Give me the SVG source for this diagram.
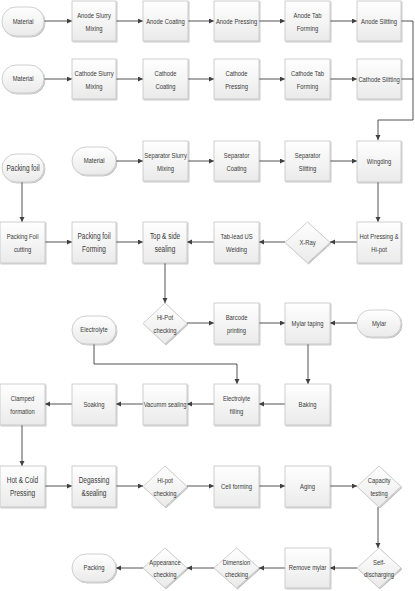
<svg xmlns="http://www.w3.org/2000/svg" width="415" height="591" viewBox="0 0 415 591">
<defs>
<linearGradient id="g" x1="0" y1="0" x2="0" y2="1"><stop offset="0" stop-color="#ffffff"/><stop offset="1" stop-color="#eaeaea"/></linearGradient>
<filter id="sh" x="-10%" y="-10%" width="130%" height="130%"><feDropShadow dx="1" dy="1" stdDeviation="0.7" flood-color="#000" flood-opacity="0.25"/></filter>
<marker id="ah" markerUnits="userSpaceOnUse" markerWidth="6" markerHeight="6" refX="5" refY="2.5" orient="auto"><path d="M0,0 L5,2.5 L0,5 z" fill="#404040"/></marker>
</defs>
<style>
.b{fill:url(#g);stroke:#c4c4c4;stroke-width:0.8;filter:url(#sh)}
.t,.l{fill:#3a3a3a;font-family:"Liberation Sans",Arial,sans-serif;text-anchor:middle;transform-box:fill-box;transform-origin:center;transform:scaleX(0.78)}
.t{font-size:7.5px}
.l{font-size:8.3px}
.c{fill:none;stroke:#404040;stroke-width:0.9}
.a{marker-end:url(#ah)}
</style>
<rect width="415" height="591" fill="#ffffff"/>
<g id="connectors">
<path class="c a" d="M44,21 H72"/><path class="c a" d="M116,21 H143"/><path class="c a" d="M188,21 H214"/><path class="c a" d="M259,21 H285"/><path class="c a" d="M330,21 H357"/>
<path class="c a" d="M44,79 H72"/><path class="c a" d="M116,79 H143"/><path class="c a" d="M188,79 H214"/><path class="c a" d="M259,79 H285"/><path class="c a" d="M330,79 H357"/>
<path class="c a" d="M401,21 H413 V120 H378 V140"/><path class="c" d="M401,79 H413"/>
<path class="c a" d="M116,161 H143"/><path class="c a" d="M188,161 H214"/><path class="c a" d="M259,161 H285"/><path class="c a" d="M330,161 H357"/>
<path class="c a" d="M378,182 V222"/><path class="c a" d="M22,182 V222"/>
<path class="c a" d="M45,242 H72"/><path class="c a" d="M116,242 H143"/><path class="c a" d="M357,242 H330"/><path class="c a" d="M285,242 H259"/><path class="c a" d="M214,242 H187"/>
<path class="c a" d="M165,263 V303"/>
<path class="c a" d="M187,323 H214"/><path class="c a" d="M259,323 H285"/><path class="c a" d="M357,323 H330"/>
<path class="c a" d="M94,344 V364 H237 V384"/><path class="c a" d="M308,344 V384"/>
<path class="c a" d="M285,404 H259"/><path class="c a" d="M214,404 H187"/><path class="c a" d="M143,404 H116"/><path class="c a" d="M72,404 H45"/>
<path class="c a" d="M22,425 V466"/>
<path class="c a" d="M45,486 H72"/><path class="c a" d="M116,486 H143"/><path class="c a" d="M187,486 H214"/><path class="c a" d="M259,486 H285"/><path class="c a" d="M330,486 H357"/>
<path class="c a" d="M378,507 V548"/>
<path class="c a" d="M357,568 H330"/><path class="c a" d="M285,568 H259"/><path class="c a" d="M214,568 H187"/><path class="c a" d="M143,568 H116"/>
</g>
<g id="n_material1"><rect class="b" x="2" y="7" width="42" height="29" rx="14"/><text class="t" x="23" y="24">Material</text></g>
<g id="n_anode_slurry"><rect class="b" x="72" y="1" width="44" height="40"/><text class="t" x="94" y="18.5">Anode Slurry</text><text class="t" x="94" y="31">Mixing</text></g>
<g id="n_anode_coating"><rect class="b" x="143" y="1" width="45" height="40"/><text class="t" x="165.5" y="24">Anode Coating</text></g>
<g id="n_anode_pressing"><rect class="b" x="214" y="1" width="45" height="40"/><text class="t" x="236.5" y="24">Anode Pressing</text></g>
<g id="n_anode_tab"><rect class="b" x="285" y="1" width="45" height="40"/><text class="t" x="307.5" y="18.5">Anode Tab</text><text class="t" x="307.5" y="31">Forming</text></g>
<g id="n_anode_slitting"><rect class="b" x="357" y="1" width="44" height="40"/><text class="t" x="379" y="24">Anode Slitting</text></g>
<g id="n_material2"><rect class="b" x="2" y="65" width="42" height="28" rx="14"/><text class="t" x="23" y="81.5">Material</text></g>
<g id="n_cathode_slurry"><rect class="b" x="72" y="59" width="44" height="40"/><text class="t" x="94" y="76.5">Cathode Slurry</text><text class="t" x="94" y="89">Mixing</text></g>
<g id="n_cathode_coating"><rect class="b" x="143" y="59" width="45" height="40"/><text class="t" x="165.5" y="76.5">Cathode</text><text class="t" x="165.5" y="89">Coating</text></g>
<g id="n_cathode_pressing"><rect class="b" x="214" y="59" width="45" height="40"/><text class="t" x="236.5" y="76.5">Cathode</text><text class="t" x="236.5" y="89">Pressing</text></g>
<g id="n_cathode_tab"><rect class="b" x="285" y="59" width="45" height="40"/><text class="t" x="307.5" y="76.5">Cathode Tab</text><text class="t" x="307.5" y="89">Forming</text></g>
<g id="n_cathode_slitting"><rect class="b" x="357" y="59" width="44" height="40"/><text class="t" x="379" y="82">Cathode Slitting</text></g>
<g id="n_packing_foil"><rect class="b" x="2" y="154" width="42" height="28" rx="14"/><text class="l" x="23" y="171">Packing foil</text></g>
<g id="n_material3"><rect class="b" x="72" y="147" width="44" height="28" rx="14"/><text class="t" x="94" y="163.5">Material</text></g>
<g id="n_separator_slurry"><rect class="b" x="143" y="141" width="45" height="40"/><text class="t" x="165.5" y="158.5">Separator Slurry</text><text class="t" x="165.5" y="171">Mixing</text></g>
<g id="n_separator_coating"><rect class="b" x="214" y="141" width="45" height="40"/><text class="t" x="236.5" y="158.5">Separator</text><text class="t" x="236.5" y="171">Coating</text></g>
<g id="n_separator_slitting"><rect class="b" x="285" y="141" width="45" height="40"/><text class="t" x="307.5" y="158.5">Separator</text><text class="t" x="307.5" y="171">Slitting</text></g>
<g id="n_wingding"><rect class="b" x="357" y="141" width="44" height="41"/><text class="t" x="379" y="164">Wingding</text></g>
<g id="n_packing_cutting"><rect class="b" x="0" y="222" width="45" height="41"/><text class="t" x="22.5" y="239.5">Packing Foil</text><text class="t" x="22.5" y="252">cutting</text></g>
<g id="n_packing_forming"><rect class="b" x="72" y="222" width="44" height="41"/><text class="l" x="94" y="239.5">Packing foil</text><text class="l" x="94" y="252">Forming</text></g>
<g id="n_top_side"><rect class="b" x="143" y="222" width="44" height="41"/><text class="l" x="165" y="239.5">Top &amp; side</text><text class="l" x="165" y="252">sealing</text></g>
<g id="n_tab_lead"><rect class="b" x="214" y="222" width="45" height="41"/><text class="t" x="236.5" y="239.5">Tab-lead  US</text><text class="t" x="236.5" y="252">Welding</text></g>
<g id="n_xray"><polygon class="b" points="307.5,222 330,242.5 307.5,263 285,242.5"/><text class="t" x="307.5" y="245">X-Ray</text></g>
<g id="n_hot_pressing"><rect class="b" x="357" y="222" width="44" height="41"/><text class="t" x="379" y="239.5">Hot Pressing &amp;</text><text class="t" x="379" y="252">Hi-pot</text></g>
<g id="n_hipot1"><polygon class="b" points="165,303 187,323.5 165,344 143,323.5"/><text class="t" x="165" y="320.5">Hi-Pot</text><text class="t" x="165" y="333">checking</text></g>
<g id="n_barcode"><rect class="b" x="214" y="303" width="45" height="41"/><text class="t" x="236.5" y="320.5">Barcode</text><text class="t" x="236.5" y="333">printing</text></g>
<g id="n_mylar_taping"><rect class="b" x="285" y="303" width="45" height="41"/><text class="t" x="307.5" y="326">Mylar taping</text></g>
<g id="n_mylar"><rect class="b" x="357" y="310" width="44" height="27" rx="13.5"/><text class="t" x="379" y="326">Mylar</text></g>
<g id="n_electrolyte"><rect class="b" x="72" y="316" width="44" height="28" rx="14"/><text class="t" x="94" y="332.5">Electrolyte</text></g>
<g id="n_clamped"><rect class="b" x="0" y="384" width="45" height="41"/><text class="t" x="22.5" y="401.5">Clamped</text><text class="t" x="22.5" y="414">formation</text></g>
<g id="n_soaking"><rect class="b" x="72" y="384" width="44" height="41"/><text class="t" x="94" y="407">Soaking</text></g>
<g id="n_vacuum"><rect class="b" x="143" y="384" width="44" height="41"/><text class="t" x="165" y="407">Vacumm sealing</text></g>
<g id="n_electrolyte_filling"><rect class="b" x="214" y="384" width="45" height="41"/><text class="t" x="236.5" y="401.5">Electrolyte</text><text class="t" x="236.5" y="414">filling</text></g>
<g id="n_baking"><rect class="b" x="285" y="384" width="45" height="41"/><text class="t" x="307.5" y="407">Baking</text></g>
<g id="n_hot_cold"><rect class="b" x="0" y="466" width="45" height="41"/><text class="l" x="22.5" y="483.5">Hot &amp; Cold</text><text class="l" x="22.5" y="496">Pressing</text></g>
<g id="n_degassing"><rect class="b" x="72" y="466" width="44" height="41"/><text class="l" x="94" y="483.5">Degassing</text><text class="l" x="94" y="496">&amp;sealing</text></g>
<g id="n_hipot2"><polygon class="b" points="165,466 187,486.5 165,507 143,486.5"/><text class="t" x="165" y="483.5">Hi-pot</text><text class="t" x="165" y="496">checking</text></g>
<g id="n_cell_forming"><rect class="b" x="214" y="466" width="45" height="41"/><text class="t" x="236.5" y="489">Cell forming</text></g>
<g id="n_aging"><rect class="b" x="285" y="466" width="45" height="41"/><text class="t" x="307.5" y="489">Aging</text></g>
<g id="n_capacity"><polygon class="b" points="379,466 401,486.5 379,507 357,486.5"/><text class="t" x="379" y="483.5">Capacity</text><text class="t" x="379" y="496">testing</text></g>
<g id="n_packing"><rect class="b" x="72" y="554" width="44" height="28" rx="14"/><text class="t" x="94" y="570.5">Packing</text></g>
<g id="n_appearance"><polygon class="b" points="165,548 187,568 165,588 143,568"/><text class="t" x="165" y="565">Appearance</text><text class="t" x="165" y="577.5">checking</text></g>
<g id="n_dimension"><polygon class="b" points="236.5,548 259,568 236.5,588 214,568"/><text class="t" x="236.5" y="565">Dimension</text><text class="t" x="236.5" y="577.5">checking</text></g>
<g id="n_remove_mylar"><rect class="b" x="285" y="548" width="45" height="40"/><text class="t" x="307.5" y="570.5">Remove mylar</text></g>
<g id="n_self_discharging"><polygon class="b" points="379,548 401,568 379,588 357,568"/><text class="t" x="379" y="565">Self-</text><text class="t" x="379" y="577.5">discharging</text></g>
</svg>
